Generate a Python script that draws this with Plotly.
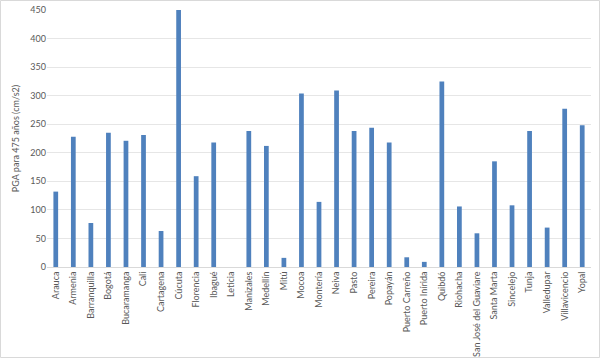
import plotly.graph_objects as go

cities = ["Arauca", "Armenia", "Barranquilla", "Bogotá", "Bucaramanga", "Cali", "Cartagena",
          "Cúcuta", "Florencia", "Ibagué", "Leticia", "Manizales", "Medellín", "Mitú", "Mocoa",
          "Montería", "Neiva", "Pasto", "Pereira", "Popayán", "Puerto Carreño", "Puerto Inírida",
          "Quibdó", "Riohacha", "San José del Guaviare", "Santa Marta", "Sincelejo", "Tunja",
          "Valledupar", "Villavicencio", "Yopal"]
pga = [132, 228, 77, 235, 221, 231, 63, 450, 159, 218, 0, 238, 212, 16, 304,
       114, 309, 238, 244, 218, 17, 9, 325, 106, 59, 185, 108, 238, 69, 277, 248]
y_ticks = [0, 50, 100, 150, 200, 250, 300, 350, 400, 450]

W, H = 600, 358
ml, mr, mt, mb = 47, 9, 10, 91
pw, ph = W - ml - mr, H - mt - mb

txt = "#595959"
fnt = "Lato, Open Sans, sans-serif"

fig = go.Figure(go.Bar(
    x=cities, y=pga,
    marker=dict(color="#4F81BD", line=dict(width=0)),
))

fig.update_layout(
    width=W, height=H,
    margin=dict(l=ml, r=mr, t=mt, b=mb, pad=0),
    paper_bgcolor="white", plot_bgcolor="white",
    bargap=0.73,
    showlegend=False,
    font=dict(family=fnt, size=9, color=txt),
    xaxis=dict(
        automargin=False,
        tickangle=-90, tickfont=dict(size=9, color=txt, family=fnt),
        showgrid=False, showline=True, linecolor="#D9D9D9", linewidth=1,
        ticks="", ticklen=0,
    ),
    yaxis=dict(
        automargin=False,
        range=[0, 450], tickvals=y_ticks,
        showgrid=True, gridcolor="#E6E6E6", gridwidth=1,
        zeroline=False, showline=False, ticks="", ticklen=0,
        tickfont=dict(size=9, color=txt, family=fnt),
        title=dict(text="PGA para 475 años (cm/s2)", font=dict(size=9, color=txt, family=fnt), standoff=9),
    ),
    shapes=[dict(
        type="rect", xref="paper", yref="paper",
        x0=(0.5 - ml) / pw, x1=(W - 0.5 - ml) / pw,
        y0=(mt + ph - (H - 0.5)) / ph, y1=(mt + ph - 0.5) / ph,
        line=dict(color="#D9D9D9", width=1), fillcolor="rgba(0,0,0,0)", layer="below",
    )],
)

fig.write_html("out.html")
